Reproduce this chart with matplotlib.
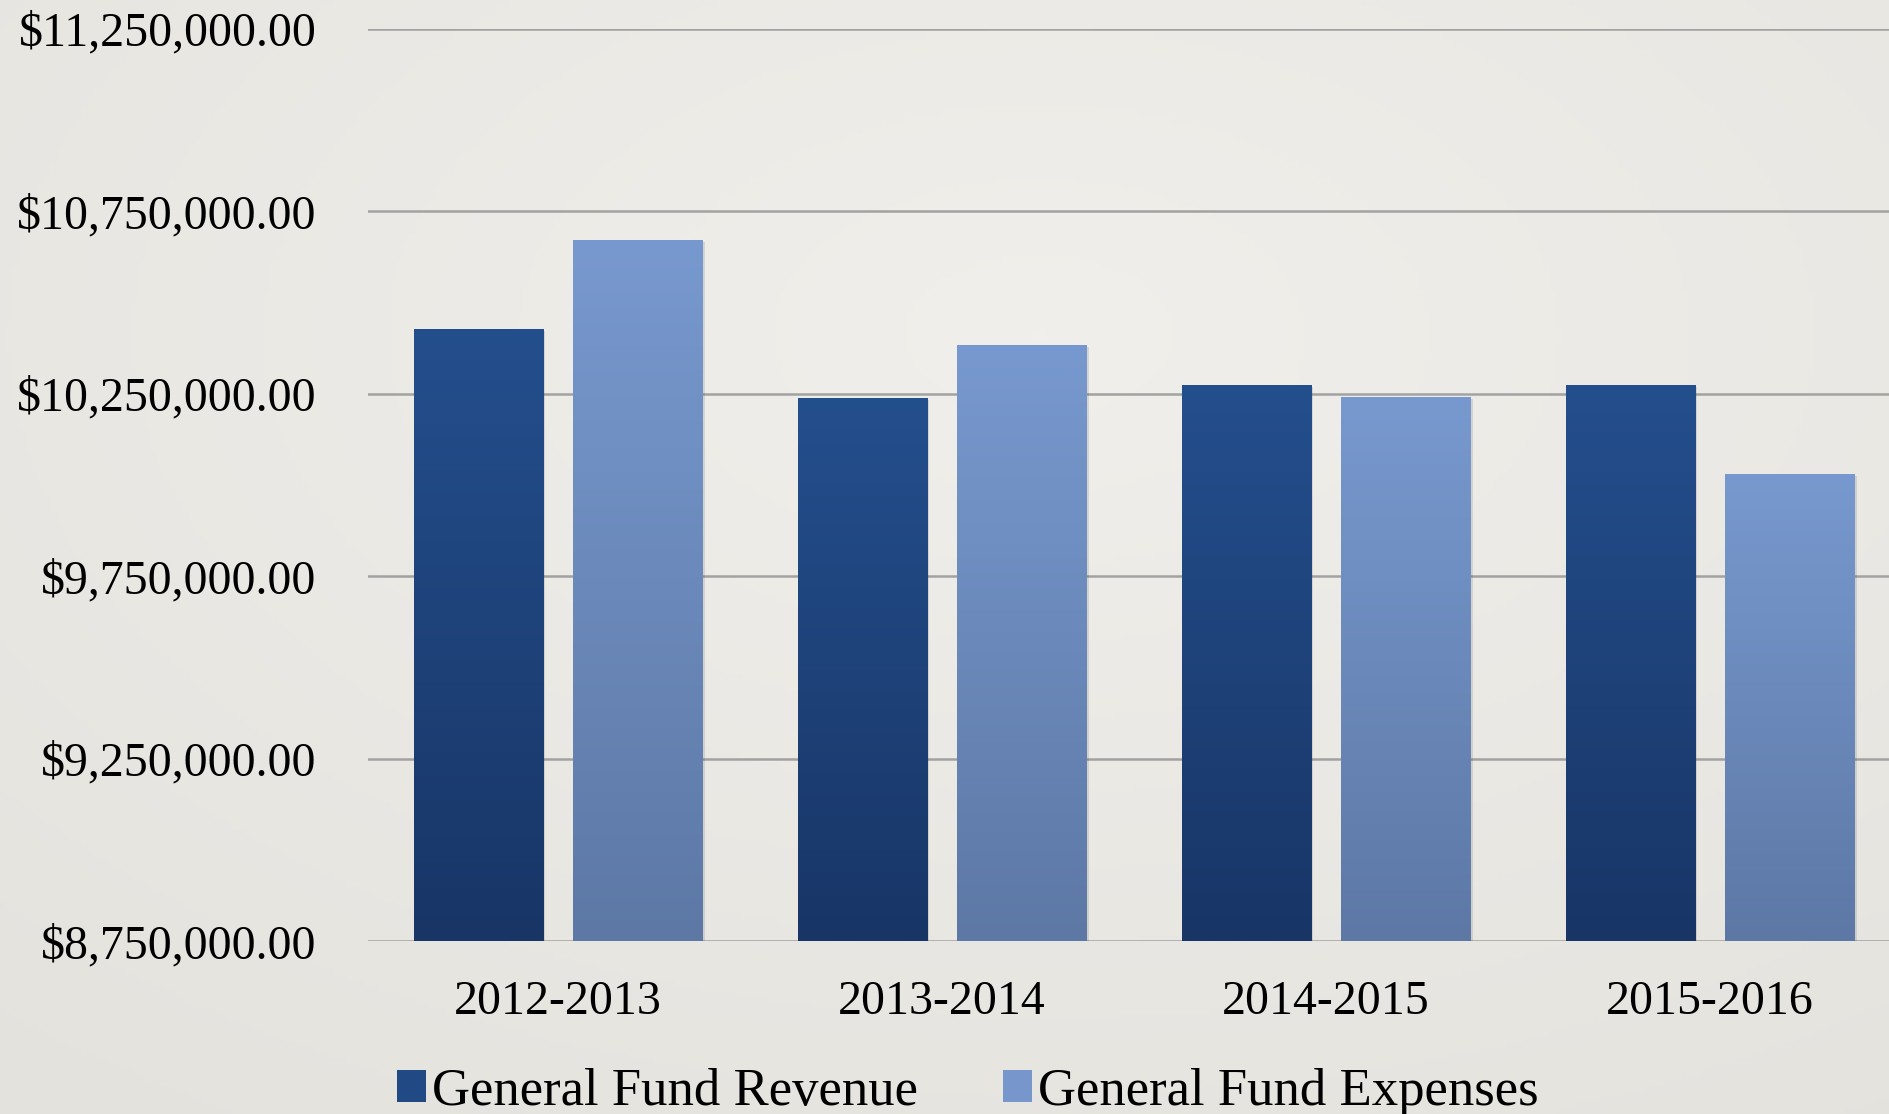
import numpy as np
import matplotlib.pyplot as plt
from matplotlib.colors import LinearSegmentedColormap
from matplotlib.patches import Patch
from matplotlib.ticker import FuncFormatter

years = ['2012-2013', '2013-2014', '2014-2015', '2015-2016']
revenue = [10428000, 10238000, 10274000, 10274000]
expenses = [10672000, 10384000, 10241000, 10030000]
ticks = [8750000, 9250000, 9750000, 10250000, 10750000, 11250000]

plt.rcParams['font.family'] = ['Liberation Serif', 'DejaVu Serif']

fig = plt.figure(figsize=(18.9, 11.14), dpi=100)
fig.patch.set_facecolor('#e8e7e2')

# soft paper-like backdrop, lighter toward the upper middle
bg = fig.add_axes([0, 0, 1, 1], zorder=-10)
yy, xx = np.mgrid[0:1:200j, 0:1:300j]
r = np.sqrt(((xx - 0.55) / 0.9) ** 2 + ((yy - 0.3) / 0.9) ** 2)
paper = LinearSegmentedColormap.from_list('paper', ['#f0efeb', '#e3e2dd'])
bg.imshow(r, cmap=paper, aspect='auto', extent=[0, 1, 0, 1], origin='upper')
bg.axis('off')

ax = fig.add_axes([0.1947, 0.1553, 0.8053, 0.8187])
ax.set_facecolor('none')

x = np.arange(len(years))
off, w = 0.208, 0.336
rev_cmap = LinearSegmentedColormap.from_list('rev', ['#183566', '#244f8d'])
exp_cmap = LinearSegmentedColormap.from_list('exp', ['#5d78a5', '#7899cf'])

rev_bars = ax.bar(x - off, revenue, w, bottom=0, color='#214a85', zorder=2)
exp_bars = ax.bar(x + off, expenses, w, bottom=0, color='#6f8dc2', zorder=2)

grad = np.linspace(0, 1, 256).reshape(-1, 1)
for bars, cm in ((rev_bars, rev_cmap), (exp_bars, exp_cmap)):
    for b in bars:
        x0, wd, h = b.get_x(), b.get_width(), b.get_height()
        # shadow to the lower right
        ax.bar(x0 + wd / 2 + 0.006, h - 5000, wd, bottom=0, color='#000000',
               alpha=0.10, zorder=1.5)
        im = ax.imshow(grad, cmap=cm, aspect='auto', origin='lower',
                       extent=[x0, x0 + wd, 8750000, h], zorder=2.5)
        im.set_clip_path(b)

ax.set_xlim(-0.495, 3.469)
ax.set_ylim(8750000, 11250000)
ax.set_yticks(ticks)
ax.yaxis.set_major_formatter(FuncFormatter(lambda v, p: '${:,.2f}'.format(v)))
ax.set_xticks(x)
ax.set_xticklabels(years)
ax.grid(axis='y', color='#a2a2a2', linewidth=1.8, zorder=0)
ax.set_axisbelow(True)
for s in ax.spines.values():
    s.set_visible(False)
ax.tick_params(axis='y', length=0, pad=37, labelsize=34.5)
ax.tick_params(axis='x', length=0, pad=28, labelsize=34.5)

handles = [Patch(facecolor='#214a85'), Patch(facecolor='#7797cc')]
fig.legend(handles, ['General Fund Revenue', 'General Fund Expenses'],
           loc='center', bbox_to_anchor=(0.512, 0.020), ncol=2, frameon=False,
           fontsize=38, handlelength=0.55, handleheight=0.55, handletextpad=0.12,
           columnspacing=1.6, borderaxespad=0)

fig.savefig('out.png', dpi=100)
